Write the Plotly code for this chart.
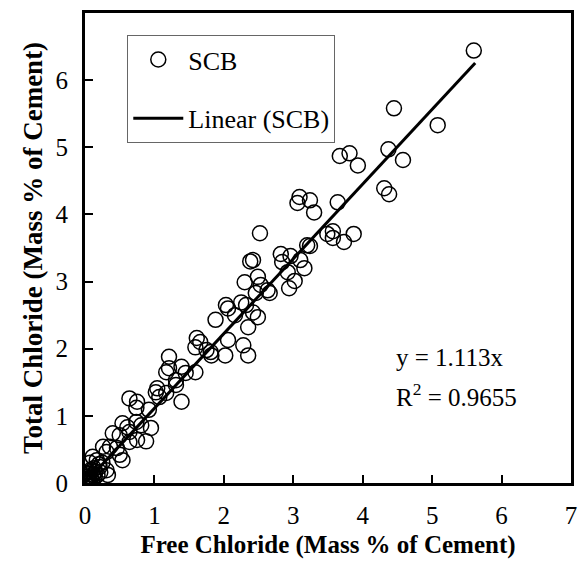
import plotly.graph_objects as go

# Free chloride (x) and total chloride (y), mass % of cement
free_cl = [5.60, 4.45, 5.08, 4.37, 4.58, 3.67, 3.81, 3.93, 4.31, 4.38, 3.64, 3.09, 3.06, 3.24, 3.30,
           3.87, 3.73, 3.49, 3.57, 3.57, 3.20, 3.24, 2.52, 2.42, 2.82, 2.96, 2.84, 3.10, 3.16, 2.92,
           2.38, 2.30, 2.49, 2.53, 2.63, 2.66, 2.46, 2.94, 3.02, 1.88, 2.03, 2.06, 2.16, 2.25, 2.32,
           2.35, 2.49, 2.42, 1.21, 1.61, 1.66, 1.59, 1.75, 1.82, 1.81, 2.06, 2.28, 2.35, 2.02, 1.17,
           1.21, 1.39, 1.45, 1.59, 1.31, 0.64, 0.75, 0.74, 1.02, 1.04, 1.07, 1.17, 1.31, 1.39, 0.92,
           0.54, 0.61, 0.64, 0.74, 0.81, 0.95, 0.75, 0.64, 0.50, 0.40, 0.26, 0.31, 0.36, 0.46, 0.50,
           0.54, 0.11, 0.17, 0.07, 0.31, 0.21, 0.33, 0.88,
           0.02, 0.04, 0.06, 0.03, 0.08, 0.05, 0.10, 0.12, 0.01, 0.07, 0.14, 0.09, 0.15, 0.18, 0.02,
           0.11, 0.04, 0.00, 0.06, 0.13, 0.20, 0.25, 0.22]
total_cl = [6.44, 5.58, 5.33, 4.97, 4.81, 4.87, 4.91, 4.73, 4.39, 4.30, 4.18, 4.26, 4.17, 4.21, 4.03,
            3.71, 3.59, 3.71, 3.75, 3.65, 3.54, 3.53, 3.72, 3.32, 3.41, 3.38, 3.29, 3.32, 3.20, 3.14,
            3.30, 2.99, 3.07, 2.95, 2.87, 2.83, 2.83, 2.90, 3.01, 2.43, 2.65, 2.60, 2.50, 2.69, 2.65,
            2.32, 2.47, 2.54, 1.88, 2.16, 2.10, 2.02, 1.98, 1.90, 1.95, 2.13, 2.05, 1.90, 1.90, 1.65,
            1.71, 1.73, 1.64, 1.65, 1.53, 1.26, 1.21, 1.12, 1.35, 1.41, 1.28, 1.34, 1.46, 1.21, 1.09,
            0.89, 0.83, 0.76, 0.91, 0.86, 0.82, 0.64, 0.61, 0.71, 0.74, 0.54, 0.46, 0.54, 0.52, 0.42,
            0.34, 0.39, 0.34, 0.30, 0.19, 0.24, 0.12, 0.62,
            0.02, 0.05, 0.03, 0.09, 0.08, 0.13, 0.05, 0.12, 0.06, 0.16, 0.09, 0.20, 0.17, 0.12, 0.15,
            0.02, 0.00, 0.03, 0.10, 0.22, 0.28, 0.30, 0.16]

slope = 1.113
fit_x = [0.0, 5.62]
fit_y = [slope * v for v in fit_x]

tick_vals = [0, 1, 2, 3, 4, 5, 6, 7]

SERIF = "Liberation Serif"

fig = go.Figure()
fig.add_trace(go.Scatter(
    x=free_cl, y=total_cl, mode="markers", name="SCB", legendgroup="a",
    marker=dict(symbol="circle-open", size=15, color="black", line=dict(width=1.5, color="black")),
))
fig.add_trace(go.Scatter(
    x=fit_x, y=fit_y, mode="lines", name="Linear (SCB)", legendgroup="b",
    line=dict(color="black", width=3),
))

fig.add_annotation(x=4.45, y=1.875, xref="x", yref="y", text="y = 1.113x", showarrow=False,
                   xanchor="left", yanchor="middle", font=dict(family=SERIF, size=25, color="black"))
fig.add_annotation(x=4.45, y=1.31, xref="x", yref="y", text="R<sup>2</sup> = 0.9655", showarrow=False,
                   xanchor="left", yanchor="middle", font=dict(family=SERIF, size=25, color="black"))

axis_common = dict(
    range=[0, 7], tickvals=tick_vals, ticks="inside", ticklen=8, tickwidth=1.5, tickcolor="black",
    showline=True, linecolor="black", linewidth=3, mirror=True, showgrid=False, zeroline=False,
    tickfont=dict(family=SERIF, size=25, color="black"),
)

fig.update_layout(
    width=585, height=565,
    margin=dict(l=85, r=8, t=13, b=82),
    plot_bgcolor="white", paper_bgcolor="white",
    xaxis=dict(**axis_common, ticklabelstandoff=8,
               title=dict(text="<b>Free Chloride (Mass % of Cement)</b>", standoff=8,
                          font=dict(family=SERIF, size=25, color="black"))),
    yaxis=dict(**axis_common, ticklabelstandoff=9,
               title=dict(text="<b>Total Chloride (Mass % of Cement)</b>", standoff=6,
                          font=dict(family=SERIF, size=27, color="black"))),
    legend=dict(x=0.087, y=0.953, xanchor="left", yanchor="top",
                bordercolor="#666666", borderwidth=1, bgcolor="white",
                font=dict(family=SERIF, size=26, color="black"),
                tracegroupgap=22, itemwidth=50),
    showlegend=True,
)

fig.write_html("out.html")
